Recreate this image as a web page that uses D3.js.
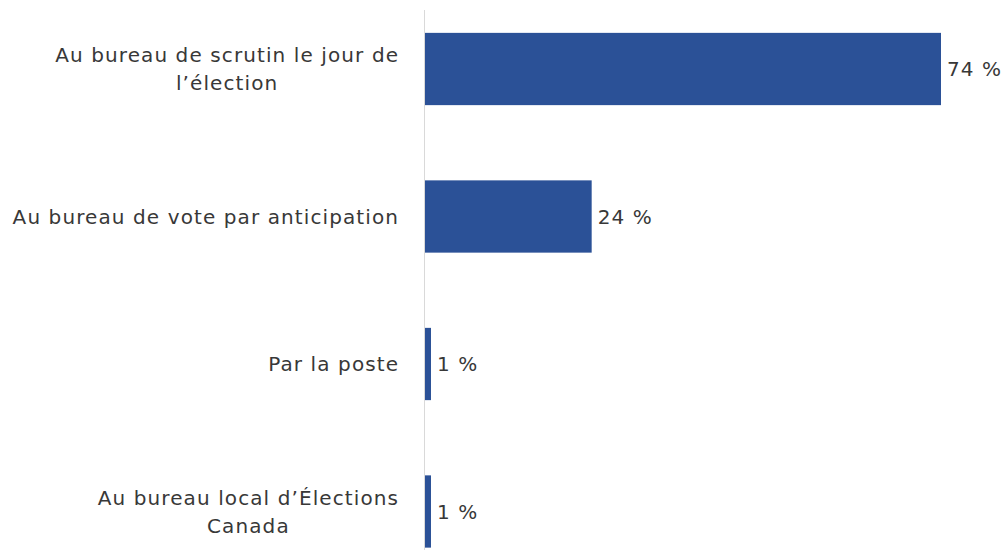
<!DOCTYPE html>
<html><head><meta charset="utf-8">
<script src="https://cdn.jsdelivr.net/npm/d3@7"></script>
<style>body{margin:0;background:#fff}svg{display:block}</style>
</head><body>
<svg id="c" width="1008" height="550"></svg>
<script>
const categories = [
  ["Au bureau de scrutin le jour de", "l’élection"],
  ["Au bureau de vote par anticipation"],
  ["Par la poste"],
  ["Au bureau local d’Élections", "Canada"]
];
const values = [74, 24, 1, 1];
const valueLabels = ["74 %", "24 %", "1 %", "1 %"];

const svg = d3.select("#c");
const keys = categories.map((c,i)=>i);
const x = d3.scaleLinear().domain([0, 74]).range([424, 941]);
const y = d3.scaleBand().domain(keys).range([-4.75, 585.25]).paddingInner(0.51).paddingOuter(0.255);

svg.append("line").attr("x1",424.5).attr("x2",424.5).attr("y1",10).attr("y2",550)
  .attr("stroke","#d9d9d9").attr("stroke-width",1);

svg.selectAll("rect.bar").data(values).join("rect").attr("class","bar")
  .attr("x", x(0)+1).attr("y",(d,i)=>y(i)).attr("width",d=>x(d)-x(0)-1).attr("height",y.bandwidth())
  .attr("fill","#2b5197");

const font = "DejaVu Sans, sans-serif";
const fs = 20, ls = 1.1;
svg.selectAll("text.val").data(values).join("text").attr("class","val")
  .attr("x",d=>x(d)+6).attr("y",(d,i)=>y(i)+y.bandwidth()/2).attr("dy","0.35em")
  .attr("font-family",font).attr("font-size",fs).attr("letter-spacing",ls).attr("fill","#383838")
  .text((d,i)=>valueLabels[i]);

const lh = 28;
categories.forEach((lines,i)=>{
  const cy = y(i)+y.bandwidth()/2;
  const g = svg.append("g");
  const texts = lines.map((t,j)=> g.append("text")
    .attr("y", cy + (j-(lines.length-1)/2)*lh).attr("dy","0.35em")
    .attr("font-family",font).attr("font-size",fs).attr("letter-spacing",ls).attr("fill","#383838").text(t));
  const widths = texts.map(t=>t.node().getComputedTextLength());
  const maxW = d3.max(widths);
  const right = 398 + ls;
  texts.forEach(t=>t.attr("x", right - maxW/2).attr("text-anchor","middle"));
});
</script>
</body></html>
